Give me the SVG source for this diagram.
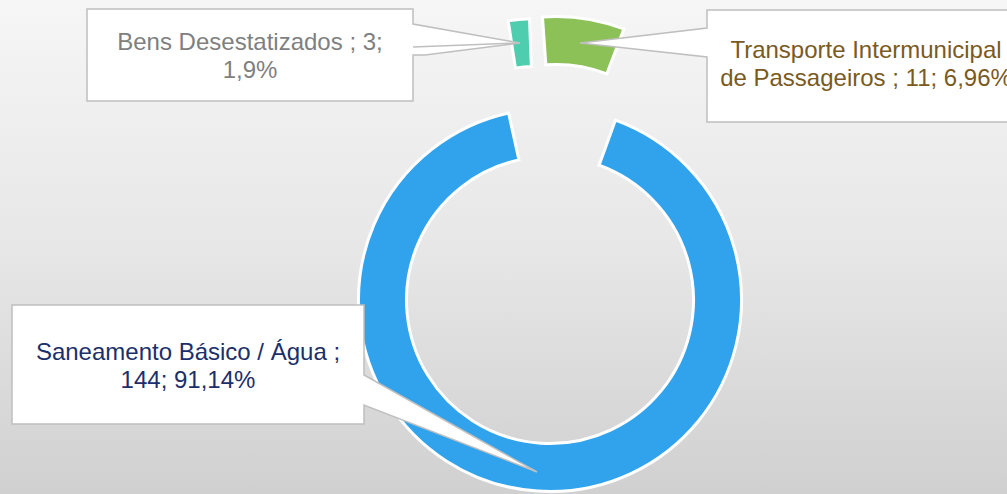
<svg xmlns="http://www.w3.org/2000/svg" width="1007" height="494" viewBox="0 0 1007 494">
<defs>
<linearGradient id="bg" x1="0" y1="0" x2="0" y2="1">
<stop offset="0" stop-color="#f6f6f6"/>
<stop offset="0.5" stop-color="#e7e7e7"/>
<stop offset="1" stop-color="#d0d0d0"/>
</linearGradient>
<style>
.slice{stroke:#ffffff;stroke-width:3;stroke-linejoin:miter}
.box{fill:#ffffff;stroke:#bfbfbf;stroke-width:1.5}
.lbl{font-family:"Liberation Sans",Arial,sans-serif;font-size:24px;text-anchor:middle}
</style>
</defs>
<rect x="0" y="0" width="1007" height="494" fill="url(#bg)"/>
<g id="slice-saneamento">
<path class="slice" fill="#31a3ec" d="M615.50,120.05 A191.5,191.5 0 1 1 508.55,113.04 L518.94,159.90 A143.5,143.5 0 1 0 599.08,165.15 Z"/>
</g>
<g id="slice-transporte">
<path class="slice" fill="#8bc157" d="M542.47,16.98 A191.5,191.5 0 0 1 623.85,28.92 L606.84,73.81 A143.5,143.5 0 0 0 545.86,64.86 Z"/>
</g>
<g id="slice-bens">
<path class="slice" fill="#4fcdaf" d="M508.20,20.68 A191.5,191.5 0 0 1 529.48,18.65 L531.37,66.61 A143.5,143.5 0 0 0 515.42,68.13 Z"/>
</g>
<g id="connectors">
<path class="box" d="M87,9 H413 V24 L520,43 L425,55 L413,55 V101 H87 Z"/>
<line x1="413" y1="47" x2="520" y2="43" stroke="#bfbfbf" stroke-width="1.5"/>
<path class="box" d="M707,10 H1025 V122 H707 V57 L580,43 L707,28 Z"/>
<path class="box" d="M12,305 H364 V375 L537,472 L364,405 V424 H12 Z"/>
</g>
<g id="label-bens">
<text class="lbl" fill="#7f7f7f" x="250" y="50">Bens Desestatizados ; 3;</text>
<text class="lbl" fill="#7f7f7f" x="250" y="77.5">1,9%</text>
</g>
<g id="label-transporte">
<text class="lbl" fill="#7a5a1e" x="866" y="58">Transporte Intermunicipal</text>
<text class="lbl" fill="#7a5a1e" x="866" y="85.5">de Passageiros ; 11; 6,96%</text>
</g>
<g id="label-saneamento">
<text class="lbl" fill="#1b2f6b" x="188" y="360">Saneamento Básico / Água ;</text>
<text class="lbl" fill="#1b2f6b" x="188" y="387.5">144; 91,14%</text>
</g>
</svg>
